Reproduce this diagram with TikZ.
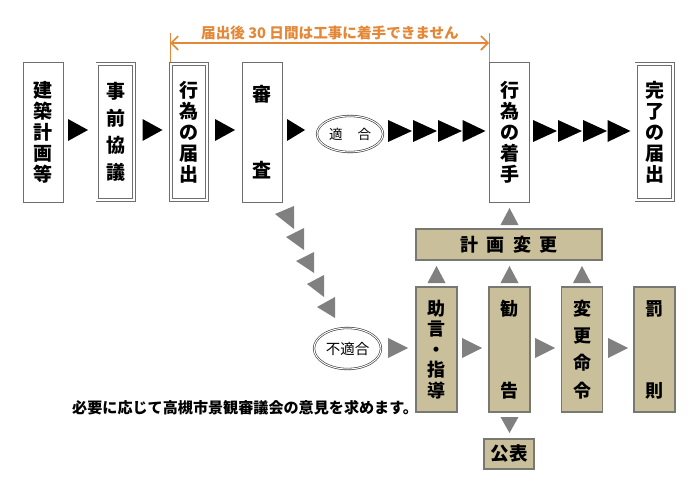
\documentclass[tikz,border=0pt]{standalone}
\usepackage{fontspec}
\setmainfont{Noto Sans CJK JP}
\usetikzlibrary{arrows.meta,calc}
\definecolor{boxgray}{RGB}{110,110,110}
\definecolor{tanfill}{RGB}{201,192,155}
\definecolor{tanedge}{RGB}{120,120,115}
\definecolor{trigray}{RGB}{128,128,128}
\definecolor{noteorange}{RGB}{228,135,55}
\newcommand\triR[5]{\fill[#1] ({#2-#4/2},{#3-#5/2}) -- ({#2+#4/2},{#3}) -- ({#2-#4/2},{#3+#5/2}) -- cycle;}
\newcommand\triU[5]{\fill[#1] ({#2-#4/2},{#3+#5/2}) -- ({#2},{#3-#5/2}) -- ({#2+#4/2},{#3+#5/2}) -- cycle;}
\newcommand\triD[5]{\fill[#1] ({#2-#4/2},{#3-#5/2}) -- ({#2},{#3+#5/2}) -- ({#2+#4/2},{#3-#5/2}) -- cycle;}
\newcommand\vtxt[2]{\bfseries\fontsize{#1}{#2}\selectfont}
\tikzset{
  sbox/.style={draw=boxgray, line width=0.8pt, minimum width=40pt, minimum height=140pt,
    inner sep=0pt, align=center, font=\vtxt{19}{21}},
  dbox/.style={sbox, double=white, double distance=2pt, minimum width=36.4pt, minimum height=136.4pt},
  tbox/.style={draw=tanedge, fill=tanfill, line width=1.2pt, minimum width=41pt, minimum height=125pt,
    inner sep=0pt, align=center, font=\vtxt{18}{20.5}},
  ell/.style={ellipse, draw=black!80, line width=0.6pt, double=white, double distance=1pt, inner sep=0pt},
  orangeline/.style={draw=noteorange, line width=1.6pt},
}
\usetikzlibrary{shapes.geometric}
\begin{document}
\begin{tikzpicture}[x=1pt,y=-1pt]
\useasboundingbox[fill=white] (0,0) rectangle (700,494);

% top row
\node[sbox] (b1) at (43,132) {建\\築\\計\\画\\等};
\node[dbox, font=\vtxt{19}{27}] (b2) at (115.5,132) {事\\前\\協\\議};
\node[dbox] (b3) at (189,132) {行\\為\\の\\届\\出};
\node[sbox, font=\vtxt{19}{76}] (b4) at (262,132) {審\\査};
\node[ell, minimum width=66pt, minimum height=36pt, font=\fontsize{13.5}{13.5}\selectfont] (ok) at (350,134) {適\kern15pt合};
\node[sbox] (b5) at (509.5,132) {行\\為\\の\\着\\手};
\node[dbox] (b6) at (654.5,132) {完\\了\\の\\届\\出};

\triR{black}{78}{130}{20}{22}
\triR{black}{152.5}{130}{20}{22}
\triR{black}{225}{130}{20}{22}
\triR{black}{296}{130}{18}{22}
\triR{black}{400}{131}{24}{22}
\triR{black}{425}{131}{24}{22}
\triR{black}{450}{131}{24}{22}
\triR{black}{474}{131}{23}{22}
\triR{black}{545}{131}{24}{22}
\triR{black}{570}{131}{24}{22}
\triR{black}{595}{131}{24}{22}
\triR{black}{619}{131}{23}{22}

% orange bracket
\coordinate (tAt) at (170,33);
\coordinate (tAb) at (170,62);
\coordinate (tBt) at (489,33);
\coordinate (tBb) at (489,62);
\coordinate (tAm) at (170,43);
\coordinate (tBm) at (489,43);
\draw[draw=noteorange, line width=1pt] (tAt) -- (tAb);
\draw[draw=noteorange, line width=1pt] (tBt) -- (tBb);
\draw[orangeline, {Straight Barb[length=7pt,width=14pt]}-{Straight Barb[length=7pt,width=14pt]}] (tAm) -- (tBm);
\node[font=\bfseries\fontsize{14.6}{14.6}\selectfont, text=noteorange, inner sep=0pt] (note) at (330,33) {届出後 30 日間は工事に着手できません};

% diagonal gray triangles
\fill[trigray] (294,206) -- (275,214) -- (294,229) -- cycle;
\fill[trigray] (304,228) -- (286,237) -- (304,250) -- cycle;
\fill[trigray] (314,252) -- (296,261) -- (314,273) -- cycle;
\fill[trigray] (324,275) -- (307,284) -- (324,297) -- cycle;
\fill[trigray] (335,297) -- (317,307) -- (335,318) -- cycle;

% lower row
\node[ell, minimum width=67pt, minimum height=41pt, font=\fontsize{14.5}{14.5}\selectfont] (ng) at (347.5,348.5) {不適合};
\node[tbox] (c1) at (436.5,349.5) {助\\言\\・\\指\\導};
\node[tbox, font=\vtxt{18}{82}] (c2) at (509.5,349.5) {勧\\告};
\node[tbox, font=\vtxt{18}{27.3}] (c3) at (582,349.5) {変\\更\\命\\令};
\node[tbox, font=\vtxt{18}{82}] (c4) at (654.5,349.5) {罰\\則};
\node[tbox, minimum width=186pt, minimum height=31pt, font=\vtxt{18}{18}] (plan) at (509,244.5) {計\kern8.5pt画\kern8.5pt変\kern8.5pt更};
\node[tbox, minimum width=50pt, minimum height=30pt, font=\vtxt{18.5}{18.5}] (pub) at (509,454) {公表};

\triR{trigray}{398}{348}{20}{20}
\triR{trigray}{472}{348}{20}{20}
\triR{trigray}{545}{348}{20}{20}
\triR{trigray}{618}{348}{20}{20}
\triU{trigray}{436.5}{274.5}{18}{17}
\triU{trigray}{509.5}{274.5}{18}{17}
\triU{trigray}{582}{274.5}{18}{17}
\triU{trigray}{509.5}{216.5}{18}{17}
\triD{trigray}{509.5}{425}{18}{16}

\node[anchor=west, font=\bfseries\fontsize{15.1}{16}\selectfont, inner sep=0pt] (memo) at (72,408) {必要に応じて高槻市景観審議会の意見を求めます。};
\end{tikzpicture}
\end{document}
